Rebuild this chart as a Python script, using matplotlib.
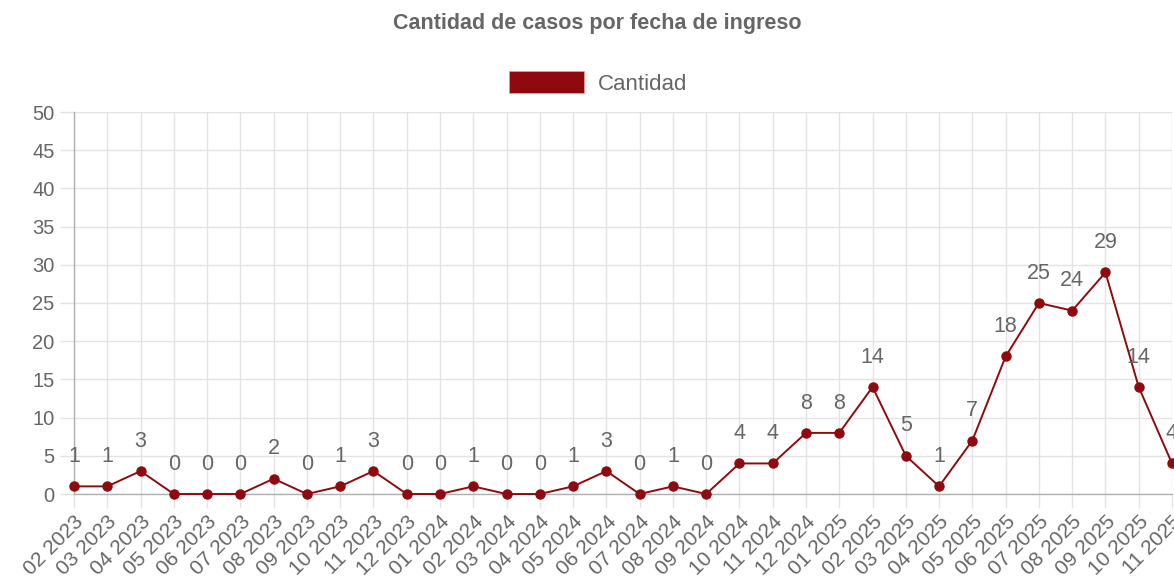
import matplotlib.pyplot as plt
from matplotlib.patches import Patch

plt.rcParams['font.family'] = ['Liberation Sans', 'DejaVu Sans']

# months (MM YYYY) and case counts
meses = ['02 2023', '03 2023', '04 2023', '05 2023', '06 2023', '07 2023',
         '08 2023', '09 2023', '10 2023', '11 2023', '12 2023',
         '01 2024', '02 2024', '03 2024', '04 2024', '05 2024', '06 2024',
         '07 2024', '08 2024', '09 2024', '10 2024', '11 2024', '12 2024',
         '01 2025', '02 2025', '03 2025', '04 2025', '05 2025', '06 2025',
         '07 2025', '08 2025', '09 2025', '10 2025', '11 2025']
cantidad = [1, 1, 3, 0, 0, 0, 2, 0, 1, 3, 0,
            0, 1, 0, 0, 1, 3, 0, 1, 0, 4, 4, 8,
            8, 14, 5, 1, 7, 18, 25, 24, 29, 14, 4]
y_ticks = [0, 5, 10, 15, 20, 25, 30, 35, 40, 45, 50]

rojo = '#8f0a0e'
gris = '#666666'

fig = plt.figure(figsize=(11.74, 5.84), dpi=100)
ax = fig.add_axes([74 / 1174, 90 / 584, 1098 / 1174, 382 / 584])

x = list(range(len(meses)))
ax.plot(x, cantidad, color=rojo, lw=1.4, marker='o', ms=6.5, clip_on=False, zorder=3)

for xi, v in zip(x, cantidad):
    ax.annotate(str(v), (xi, v), xytext=(0, 21.5), textcoords='offset points',
                ha='center', va='center', fontsize=15.5, color=gris, annotation_clip=False)

ax.set_xlim(0, len(meses) - 1)
ax.set_ylim(0, 50)
ax.set_yticks(y_ticks)
ax.set_xticks(x)
ax.set_xticklabels(meses, rotation=45, ha='right', rotation_mode='anchor')

ax.grid(True, color='#e3e3e3', lw=1)
ax.set_axisbelow(True)
ax.tick_params(axis='both', colors='#e3e3e3', labelcolor=gris, labelsize=14.5,
               length=10, width=1, pad=4)
ax.tick_params(axis='x', pad=3, labelsize=15)
for s in ['top', 'right']:
    ax.spines[s].set_visible(False)
for s in ['left', 'bottom']:
    ax.spines[s].set_color('#b0b0b0')
    ax.spines[s].set_linewidth(1)

# the original canvas is wider than the crop, so centre on ~597 px
fig.suptitle('Cantidad de casos por fecha de ingreso', x=597.5 / 1174, y=1 - 23 / 584,
             va='center', fontsize=15.5, fontweight='bold', color=gris)

fig.legend(handles=[Patch(facecolor=rojo, edgecolor='#e8a0a0', lw=0.5, label='Cantidad')],
           loc='center', bbox_to_anchor=(598 / 1174, 0.858), frameon=False, fontsize=16,
           labelcolor=gris, handlelength=3.4, handleheight=1.15, handletextpad=0.6)

fig.savefig('out.png', dpi=100)
